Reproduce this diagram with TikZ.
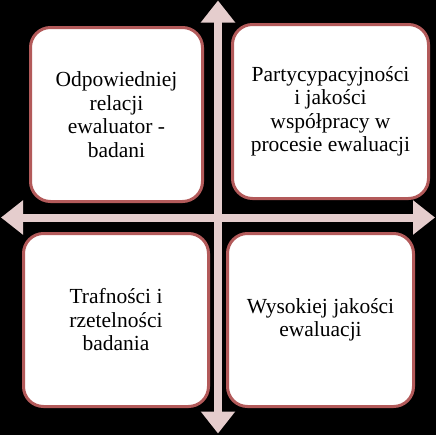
\documentclass[tikz,border=0pt]{standalone}
\usepackage{fontspec}
\setmainfont{Liberation Serif}
\usetikzlibrary{positioning,arrows.meta}
\definecolor{boxred}{HTML}{B35A5A}
\definecolor{axispink}{HTML}{E5CDCD}
\begin{document}
\begin{tikzpicture}[x=1pt,y=-1pt,
    quad/.style={draw=boxred, line width=3pt, fill=white, rounded corners=20pt,
        outer sep=0pt, inner sep=2pt, align=center, text=black,
        font=\fontsize{21.5}{23.5}\selectfont},
    axis/.style={draw=axispink, line width=8pt,
        {Triangle[width=33pt,length=22pt]}-{Triangle[width=33pt,length=22pt]}}]
    \useasboundingbox (0,0) rectangle (436,434);
    \fill[black] (-2,-2) rectangle (438,436);
    \coordinate (top) at (218,0.5);
    \coordinate (bottom) at (218,433.5);
    \coordinate (left) at (1,217.5);
    \coordinate (right) at (435,217.5);
    \draw[axis] (top) -- (bottom);
    \draw[axis] (left) -- (right);

    \node [quad, minimum width=172pt, minimum height=174pt] (tl) at (116.5,114.5) {Odpowiedniej\\relacji\\ewaluator -\\badani};
    \node [quad, minimum width=196pt, minimum height=174pt, right=30pt of tl, yshift=3pt] (tr) {Partycypacyjności\\i jakości\\współpracy w\\procesie ewaluacji};
    \node [quad, minimum width=185pt, minimum height=173pt, below=32pt of tl, xshift=-0.5pt] (bl) {Trafności i\\rzetelności\\badania};
    \node [quad, minimum width=186pt, minimum height=173pt, right=19pt of bl] (br) {Wysokiej jakości\\ewaluacji};
\end{tikzpicture}
\end{document}
